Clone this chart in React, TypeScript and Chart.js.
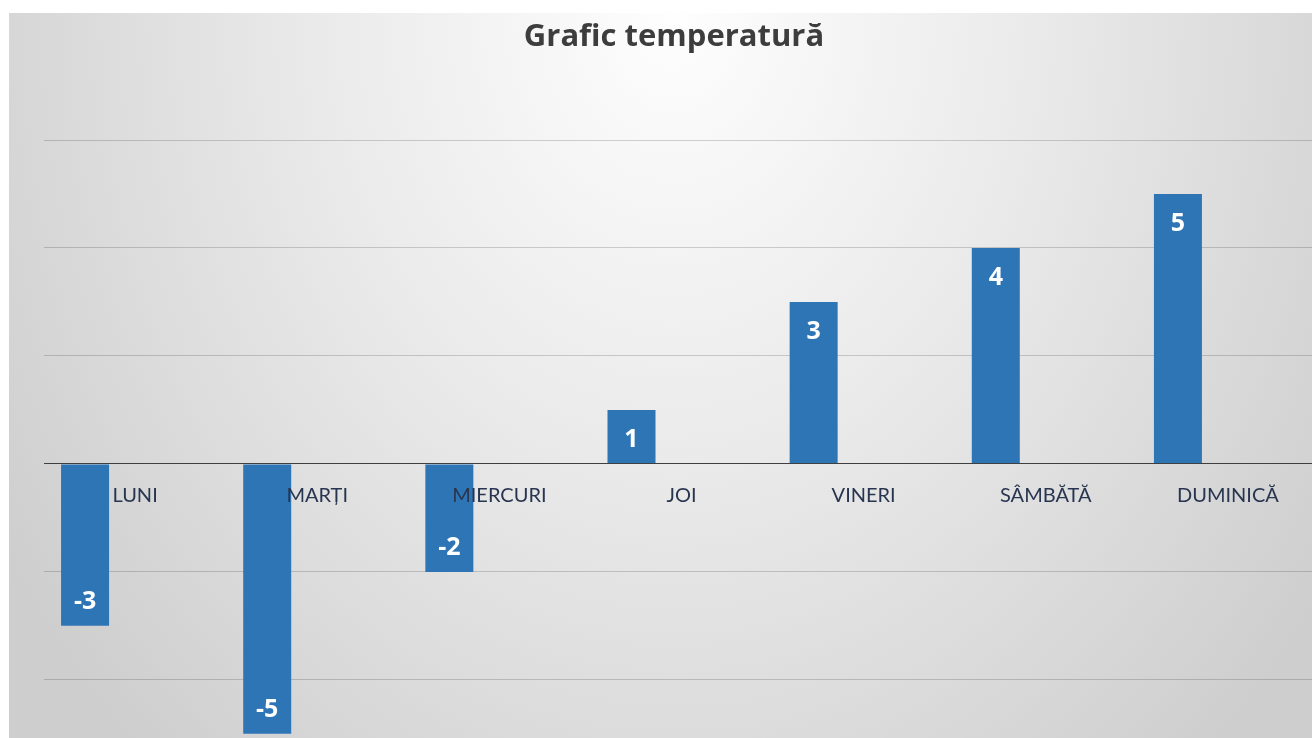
import React, { useEffect, useRef } from "react";
import { Chart, registerables } from "chart.js";

Chart.register(...registerables);

const TITLE = "Grafic temperatură";
const DAYS = ["LUNI", "MARȚI", "MIERCURI", "JOI", "VINERI", "SÂMBĂTĂ", "DUMINICĂ"];
const TEMPERATURES = [-3, -5, -2, 1, 3, 4, 5];
const EMPTY_SERIES = [null, null, null, null, null, null, null];
const Y_TICKS = [-4, -2, 0, 2, 4, 6];
const Y_MIN = -5.04;
const Y_MAX = 6;

const BAR_COLOR = "#2E75B6";
const GRID_COLOR = "rgba(0,0,0,0.17)";
const AXIS_COLOR = "#3f3f3f";
const LABEL_COLOR = "#283550";
const TITLE_COLOR = "#3d3d3d";

export default function App() {
  const ref = useRef<HTMLCanvasElement>(null);

  useEffect(() => {
    const canvas = ref.current!;
    const valueLabels = {
      id: "valueLabels",
      afterDatasetsDraw(chart: any) {
        const ctx = chart.ctx;
        const meta = chart.getDatasetMeta(0);
        const data = chart.data.datasets[0].data as number[];
        ctx.save();
        ctx.fillStyle = "#ffffff";
        ctx.font = "bold 25px 'Open Sans'";
        ctx.textAlign = "center";
        ctx.textBaseline = "middle";
        meta.data.forEach((bar: any, i: number) => {
          const v = data[i];
          const y = v >= 0 ? bar.y + 30 : bar.y - 24;
          ctx.fillText(String(v), bar.x, y);
        });
        ctx.restore();
      },
    };

    const chart = new Chart(canvas, {
      type: "bar",
      data: {
        labels: DAYS,
        datasets: [
          {
            label: "Temperatură",
            data: TEMPERATURES,
            backgroundColor: BAR_COLOR,
            barPercentage: 0.48,
            categoryPercentage: 1.098,
          },
          {
            label: "",
            data: EMPTY_SERIES as any,
            backgroundColor: BAR_COLOR,
            barPercentage: 0.48,
            categoryPercentage: 1.098,
          },
        ],
      },
      options: {
        responsive: false,
        animation: false,
        devicePixelRatio: 1,
        layout: { padding: { left: 29, right: 29, top: 0, bottom: 2 } },
        plugins: {
          legend: { display: false },
          tooltip: { enabled: false },
          title: {
            display: true,
            text: TITLE,
            color: TITLE_COLOR,
            font: { family: "'Open Sans'", size: 31, weight: "bold", lineHeight: 1.2 },
            padding: { top: 19, bottom: 83.8 },
          },
        },
        scales: {
          x: {
            position: { y: 0 } as any,
            grid: { display: false, drawTicks: false },
            border: { display: true, color: AXIS_COLOR, width: 1, z: 1 },
            ticks: {
              z: 1,
              color: LABEL_COLOR,
              font: { family: "Lato", size: 20, lineHeight: 1.2 },
              padding: 20,
              maxRotation: 0,
              autoSkip: false,
            },
          },
          y: {
            min: Y_MIN,
            max: Y_MAX,
            afterBuildTicks: (s: any) => {
              s.ticks = Y_TICKS.map((v) => ({ value: v }));
            },
            afterFit: (s: any) => {
              s.width = 15;
            },
            ticks: { display: false },
            border: { display: false },
            grid: { color: GRID_COLOR, drawTicks: false, lineWidth: 1 },
          },
        },
      },
      plugins: [valueLabels],
    });
    return () => chart.destroy();
  }, []);

  return (
    <div
      style={{
        position: "fixed",
        left: 0,
        top: 0,
        width: 1312,
        height: 738,
        overflow: "hidden",
        background: "#ffffff",
      }}
    >
      <div
        style={{
          position: "absolute",
          left: 9,
          top: 13,
          right: 0,
          bottom: 0,
          background:
            "radial-gradient(ellipse 800px 1000px at 665px 0px, #fefefe 0%, #eaeaea 45%, #d8d8d8 80%, #cecece 100%)",
        }}
      />
      <canvas
        ref={ref}
        width={1348}
        height={738}
        style={{ position: "absolute", left: 0, top: 0, width: 1348, height: 738 }}
      />
    </div>
  );
}
